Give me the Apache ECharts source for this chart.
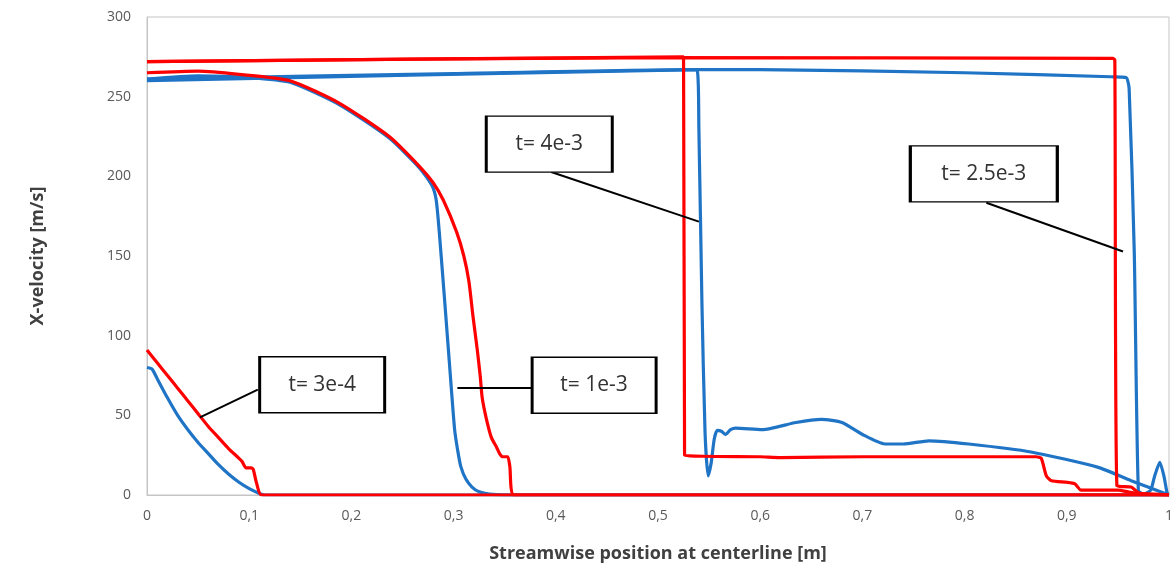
<!DOCTYPE html>
<html>
<head>
<meta charset="utf-8">
<script src="https://cdn.jsdelivr.net/npm/echarts@6/dist/echarts.min.js"></script>
<style>
  html,body{margin:0;padding:0;background:#fff;}
  #chart{width:1176px;height:568px;}
</style>
</head>
<body>
<div id="chart"></div>
<script>
// x tick labels use a decimal comma
const xTicks = [0, 0.1, 0.2, 0.3, 0.4, 0.5, 0.6, 0.7, 0.8, 0.9, 1];

// blue curves, [position, velocity]
const blue3e4 = [[0,80],[0.005,79],[0.01,73],[0.02,61],[0.03,50],[0.04,41],[0.05,33],[0.06,26],[0.07,19],[0.08,13],[0.09,8],[0.1,4],[0.11,1],[0.115,0],[1,0]];
const blue1e3 = [[0,261],[0.05,263],[0.1,262],[0.14,259],[0.188,245],[0.237,224],[0.267,205],[0.279,194],[0.283,185],[0.286,165],[0.291,124],[0.296,82],[0.301,41],[0.304,28],[0.307,18],[0.312,10],[0.318,5],[0.325,2],[0.335,0.5],[0.35,0],[1,0]];
const blue4e3 = [[0,260],[0.538,267],[0.54,230],[0.543,120],[0.546,40],[0.549,12],[0.552,20],[0.555,35],[0.558,40.6],[0.562,40],[0.566,38],[0.571,41],[0.576,42],[0.602,41],[0.635,45.5],[0.66,47.5],[0.68,45.5],[0.7,38],[0.722,32],[0.74,32],[0.765,34],[0.804,32],[0.865,27],[0.93,17.5],[0.963,9],[1,0]];
const blue25e3 = [[0,261],[0.3,264.5],[0.538,267],[0.6,267],[0.8,265],[0.943,262.5],[0.958,262],[0.961,255],[0.966,153],[0.97,3],[0.975,0.5],[0.982,3],[0.986,12],[0.991,20.5],[0.995,12],[0.999,0],[1,0]];

// red curves
const red3e4 = [[0,91],[0.01,83],[0.02,75],[0.03,67],[0.04,59],[0.05,51],[0.06,43],[0.07,36],[0.08,29],[0.09,23],[0.093,21],[0.097,17],[0.102,17],[0.104,16],[0.107,8],[0.112,0],[1,0]];
const red1e3 = [[0,265],[0.05,266],[0.09,264],[0.14,260],[0.188,246],[0.237,225],[0.267,206],[0.28,196],[0.29,185],[0.303,165],[0.31,150],[0.315,134],[0.319,112],[0.323,92],[0.326,75],[0.328,61],[0.332,48],[0.337,36],[0.342,30],[0.345,26],[0.348,24],[0.353,24],[0.355,18],[0.359,0],[1,0]];
const red4e3 = [[0,272],[0.525,275],[0.526,25],[0.6,24],[0.62,23.5],[0.7,24],[0.8,24],[0.87,24],[0.875,23],[0.88,12],[0.885,9],[0.9,8],[0.908,7],[0.914,3],[0.95,3],[0.96,2],[0.97,1],[1,0]];
const red25e3 = [[0,272],[0.5,274.5],[0.945,274],[0.947,273],[0.949,6],[0.963,5],[0.97,1.5],[0.98,0.5],[1,0]];

// annotation boxes: label, centre, callout from / to
const noteLabels = ['t= 3e-4', 't= 1e-3', 't= 4e-3', 't= 2.5e-3'];
const noteCentres = [[0.1714,69.2],[0.4375,68.9],[0.3936,220.2],[0.8188,201.5]];
const noteWidths = [125, 124, 126, 147];
const noteFrom = [[0.1084,66.1],[0.377,67.4],[0.3955,202.7],[0.8213,183.4]];
const noteTo = [[0.0518,48.7],[0.3037,67.4],[0.540,171.6],[0.955,152.8]];

const BLUE = '#1f74c6';
const RED = '#ff0000';

function curve(name, data, color){
  return {
    name: name,
    type: 'line',
    data: data,
    showSymbol: false,
    smooth: 0.2,
    lineStyle: {color: color, width: 3.2},
    itemStyle: {color: color}
  };
}

let myChart = echarts.init(document.getElementById('chart'));
let option = {
  animation: false,
  textStyle: {fontFamily: 'Open Sans'},
  grid: {
    left: 147,
    right: 5,
    top: 17,
    bottom: 70,
    show: true,
    borderColor: '#c4c4c4',
    borderWidth: 1
  },
  xAxis: {
    type: 'value',
    min: 0,
    max: 1,
    interval: 0.1,
    name: 'Streamwise position at centerline [m]',
    nameLocation: 'middle',
    nameGap: 50,
    nameTextStyle: {fontSize: 18, fontWeight: 'bold', color: '#404040'},
    axisLine: {show: true, lineStyle: {color: '#c4c4c4'}},
    axisTick: {show: false},
    splitLine: {show: false},
    axisLabel: {
      color: '#595959',
      fontSize: 14,
      margin: 14,
      formatter: function(v){
        return String(+v.toFixed(1)).replace('.', ',');
      }
    }
  },
  yAxis: {
    type: 'value',
    min: 0,
    max: 300,
    interval: 50,
    name: 'X-velocity [m/s]',
    nameLocation: 'middle',
    nameRotate: 90,
    nameGap: 100,
    nameTextStyle: {fontSize: 18, fontWeight: 'bold', color: '#404040'},
    axisLine: {show: true, lineStyle: {color: '#c4c4c4'}},
    axisTick: {show: false},
    splitLine: {show: false},
    axisLabel: {color: '#595959', fontSize: 14, margin: 16}
  },
  series: [
    curve('b3e4', blue3e4, BLUE),
    curve('b1e3', blue1e3, BLUE),
    curve('b4e3', blue4e3, BLUE),
    curve('b25e3', blue25e3, BLUE),
    curve('r3e4', red3e4, RED),
    curve('r1e3', red1e3, RED),
    curve('r4e3', red4e3, RED),
    curve('r25e3', red25e3, RED),
    {
      name: 'notes',
      type: 'line',
      data: [],
      z: 10,
      markLine: {
        silent: true,
        symbol: 'none',
        label: {show: false},
        lineStyle: {color: '#000', width: 2, type: 'solid'},
        data: noteFrom.map(function(p, i){ return [{coord: p}, {coord: noteTo[i]}]; })
      },
      markPoint: {
        silent: true,
        symbol: 'rect',
        itemStyle: {color: '#fff', borderColor: '#000', borderWidth: 2},
        label: {
          show: true,
          position: 'inside',
          color: '#333',
          fontSize: 21,
          formatter: function(p){ return p.name; }
        },
        data: noteLabels.map(function(t, i){
          return {name: t, coord: noteCentres[i], symbolSize: [noteWidths[i], 56]};
        })
      }
    }
  ]
};
myChart.setOption(option);
</script>
</body>
</html>
